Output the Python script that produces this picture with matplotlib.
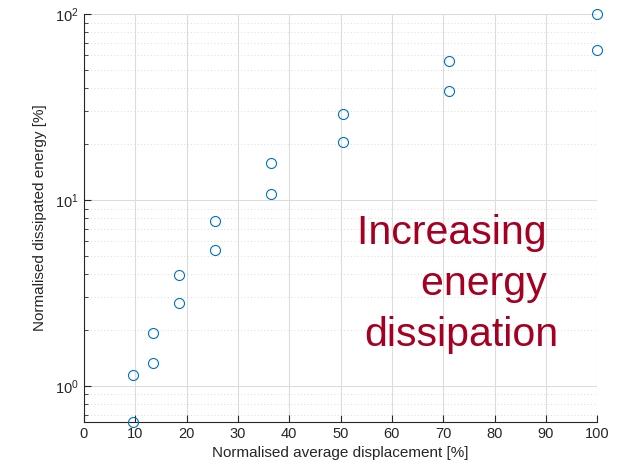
import matplotlib.pyplot as plt
from matplotlib.ticker import LogLocator, NullFormatter

plt.rcParams['font.family'] = ['Liberation Sans', 'DejaVu Sans']

# Normalised displacement [%] and dissipated energy [%] (two measurements per level)
displacement = [9.6, 9.6, 13.5, 13.5, 18.5, 18.5, 25.5, 25.5,
                36.5, 36.5, 50.5, 50.5, 71.2, 71.2, 100, 100]
energy = [1.15, 0.64, 1.93, 1.33, 3.95, 2.8, 7.7, 5.4,
          15.8, 10.8, 29.0, 20.5, 55.8, 38.6, 100, 64]

fig = plt.figure(figsize=(6.26, 4.72), dpi=100)
ax = fig.add_axes([0.134, 0.106, 0.82, 0.864])

ax.plot(displacement, energy, linestyle='none', marker='o', markersize=7.2,
        markerfacecolor='none', markeredgecolor='#0072BD', markeredgewidth=0.8,
        clip_on=False, zorder=3)

ax.set_yscale('log')
ax.set_xlim(0, 100)
ax.set_ylim(0.64, 100)
ax.set_xticks(range(0, 101, 10))
ax.yaxis.set_minor_locator(LogLocator(base=10, subs=range(2, 10)))
ax.yaxis.set_minor_formatter(NullFormatter())

ax.grid(True, which='major', color='#dcdcdc', linewidth=0.8)
ax.grid(True, which='minor', axis='y', color='#d0d0d0', linestyle=(0, (1, 3)), linewidth=0.6)
ax.set_axisbelow(True)

for side in ['top', 'right']:
    ax.spines[side].set_visible(False)
for side in ['left', 'bottom']:
    ax.spines[side].set_color('#262626')
    ax.spines[side].set_linewidth(0.8)

ax.tick_params(which='both', direction='in', colors='#262626', labelsize=10.5)
ax.tick_params(which='major', length=5)
ax.tick_params(which='minor', length=3)

ax.set_xlabel('Normalised average displacement [%]', fontsize=11, color='#262626', labelpad=4)
ax.set_ylabel('Normalised dissipated energy [%]', fontsize=11, color='#262626', labelpad=6)

ax.text(0.924, 0.187, 'Increasing \nenergy \ndissipation', transform=ax.transAxes,
        ha='right', va='baseline', multialignment='right', fontsize=29.6,
        color='#A50021', linespacing=1.43)

fig.savefig('out.png', dpi=100)
